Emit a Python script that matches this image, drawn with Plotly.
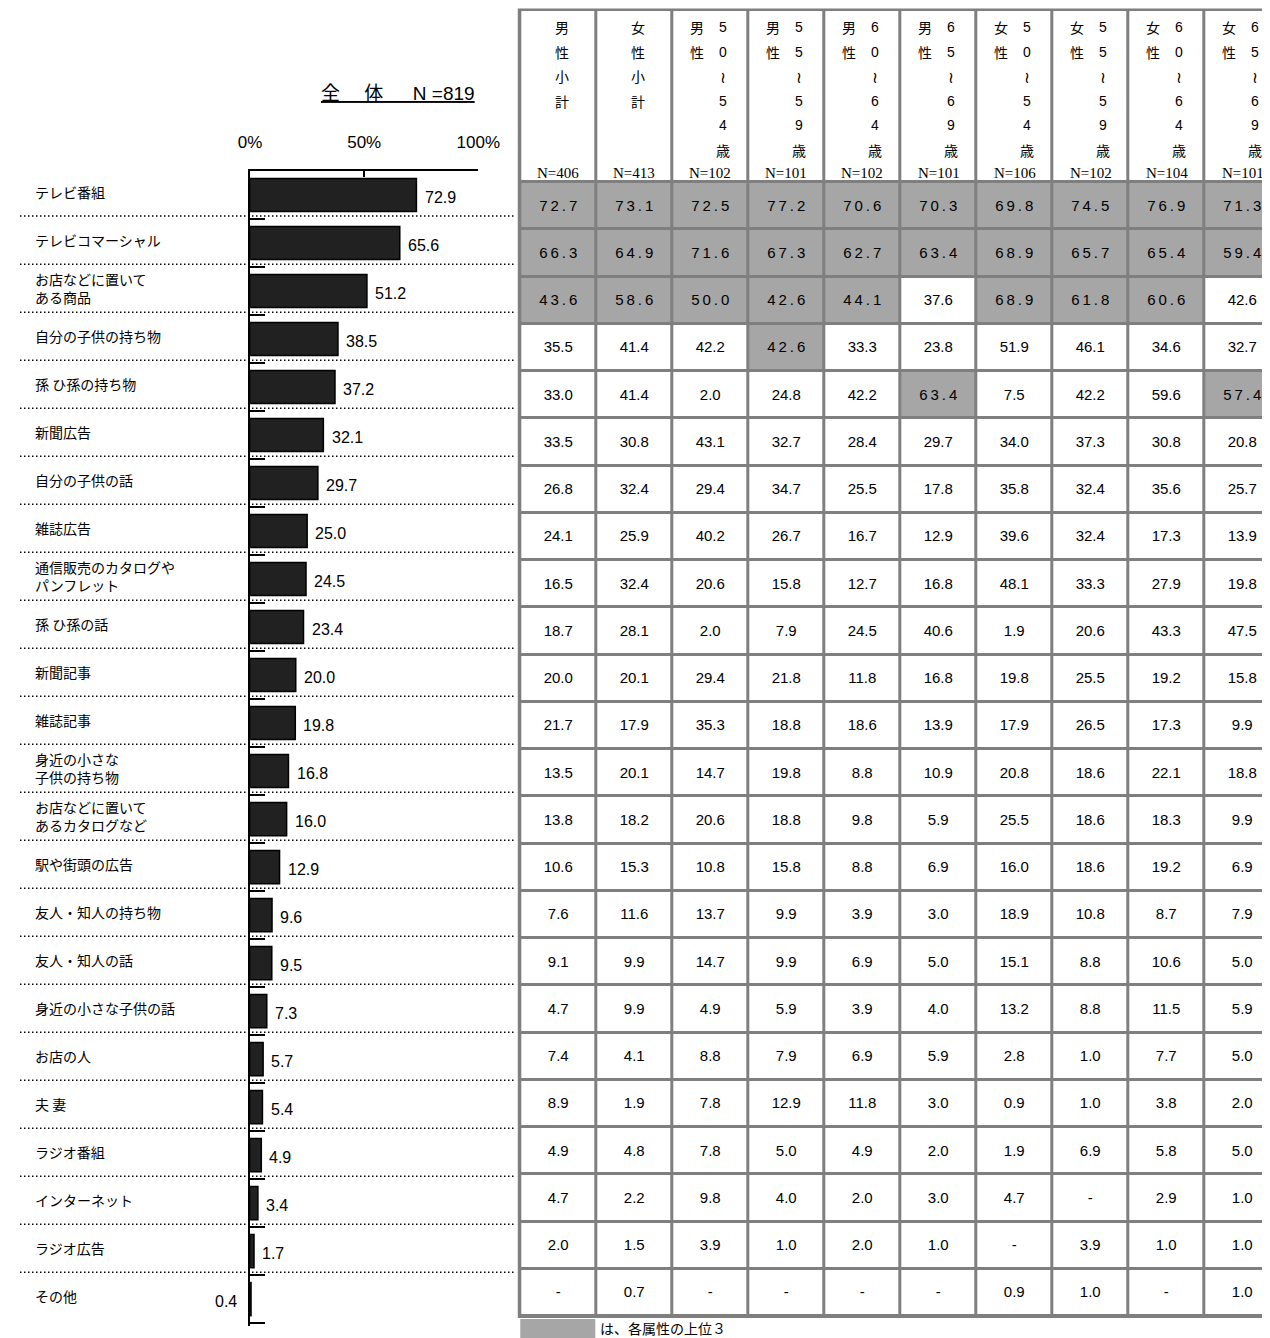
import plotly.graph_objects as go

# The photographed page maps figure pixels to picture pixels as
#   picture_x = 20 + 0.973 * fig_x,   picture_y = 8 + fig_y
SX, OX, OY = 0.973, 20, 8
W = round((1270 - OX) / SX)     # figure width reaching the right edge of the picture
H = 1338 - OY                    # figure height reaching the bottom edge

# ---------------- data ----------------
items = [
    "テレビ番組", "テレビコマーシャル", "お店などに置いて<br>ある商品", "自分の子供の持ち物",
    "孫 ひ孫の持ち物", "新聞広告", "自分の子供の話", "雑誌広告",
    "通信販売のカタログや<br>パンフレット", "孫 ひ孫の話", "新聞記事", "雑誌記事",
    "身近の小さな<br>子供の持ち物", "お店などに置いて<br>あるカタログなど", "駅や街頭の広告",
    "友人・知人の持ち物", "友人・知人の話", "身近の小さな子供の話", "お店の人", "夫 妻",
    "ラジオ番組", "インターネット", "ラジオ広告", "その他",
]
overall = [72.9, 65.6, 51.2, 38.5, 37.2, 32.1, 29.7, 25.0, 24.5, 23.4, 20.0, 19.8,
           16.8, 16.0, 12.9, 9.6, 9.5, 7.3, 5.7, 5.4, 4.9, 3.4, 1.7, 0.4]
title_text = "全　 体　  N =819"
axis_ticks = [0, 50, 100]
axis_ticktext = ["0%", "50%", "100%"]

col_sex = ["男性小計", "女性小計", "男性", "男性", "男性", "男性", "女性", "女性", "女性", "女性"]
col_age = ["", "", "50～54歳", "55～59歳", "60～64歳", "65～69歳",
           "50～54歳", "55～59歳", "60～64歳", "65～69歳"]
col_n = [406, 413, 102, 101, 102, 101, 106, 102, 104, 101]

male_total = [72.7, 66.3, 43.6, 35.5, 33.0, 33.5, 26.8, 24.1, 16.5, 18.7, 20.0, 21.7,
              13.5, 13.8, 10.6, 7.6, 9.1, 4.7, 7.4, 8.9, 4.9, 4.7, 2.0, None]
female_total = [73.1, 64.9, 58.6, 41.4, 41.4, 30.8, 32.4, 25.9, 32.4, 28.1, 20.1, 17.9,
                20.1, 18.2, 15.3, 11.6, 9.9, 9.9, 4.1, 1.9, 4.8, 2.2, 1.5, 0.7]
male_50_54 = [72.5, 71.6, 50.0, 42.2, 2.0, 43.1, 29.4, 40.2, 20.6, 2.0, 29.4, 35.3,
              14.7, 20.6, 10.8, 13.7, 14.7, 4.9, 8.8, 7.8, 7.8, 9.8, 3.9, None]
male_55_59 = [77.2, 67.3, 42.6, 42.6, 24.8, 32.7, 34.7, 26.7, 15.8, 7.9, 21.8, 18.8,
              19.8, 18.8, 15.8, 9.9, 9.9, 5.9, 7.9, 12.9, 5.0, 4.0, 1.0, None]
male_60_64 = [70.6, 62.7, 44.1, 33.3, 42.2, 28.4, 25.5, 16.7, 12.7, 24.5, 11.8, 18.6,
              8.8, 9.8, 8.8, 3.9, 6.9, 3.9, 6.9, 11.8, 4.9, 2.0, 2.0, None]
male_65_69 = [70.3, 63.4, 37.6, 23.8, 63.4, 29.7, 17.8, 12.9, 16.8, 40.6, 16.8, 13.9,
              10.9, 5.9, 6.9, 3.0, 5.0, 4.0, 5.9, 3.0, 2.0, 3.0, 1.0, None]
female_50_54 = [69.8, 68.9, 68.9, 51.9, 7.5, 34.0, 35.8, 39.6, 48.1, 1.9, 19.8, 17.9,
                20.8, 25.5, 16.0, 18.9, 15.1, 13.2, 2.8, 0.9, 1.9, 4.7, None, 0.9]
female_55_59 = [74.5, 65.7, 61.8, 46.1, 42.2, 37.3, 32.4, 32.4, 33.3, 20.6, 25.5, 26.5,
                18.6, 18.6, 18.6, 10.8, 8.8, 8.8, 1.0, 1.0, 6.9, None, 3.9, 1.0]
female_60_64 = [76.9, 65.4, 60.6, 34.6, 59.6, 30.8, 35.6, 17.3, 27.9, 43.3, 19.2, 17.3,
                22.1, 18.3, 19.2, 8.7, 10.6, 11.5, 7.7, 3.8, 5.8, 2.9, 1.0, None]
female_65_69 = [71.3, 59.4, 42.6, 32.7, 57.4, 20.8, 25.7, 13.9, 19.8, 47.5, 15.8, 9.9,
                18.8, 9.9, 6.9, 7.9, 5.0, 5.9, 5.0, 2.0, 5.0, 1.0, 1.0, 1.0]
legend_text = "は、各属性の上位３"

columns = [male_total, female_total, male_50_54, male_55_59, male_60_64, male_65_69,
           female_50_54, female_55_59, female_60_64, female_65_69]

# ---------------- styling ----------------
JP = "Noto Sans CJK JP"
SANS = "Liberation Sans, Noto Sans CJK JP"
SERIF = "Liberation Serif"
HL = "#a6a6a6"
BORDER = "#7f7f7f"

nrow = len(items)
ncol = len(columns)

def px(X):
    """picture x pixel -> paper fraction"""
    return max(0.0, (X - OX) / SX / W)

def py(Y):
    """picture y pixel -> paper fraction"""
    return 1 - (Y - OY) / H

def sx(d):
    """picture pixel shift -> figure pixel shift"""
    return d / SX

fig = go.Figure()

fig.add_trace(go.Bar(
    x=overall, y=list(range(nrow)), orientation="h", width=0.69,
    marker=dict(color="#212121", line=dict(color="black", width=1.5)),
    hoverinfo="skip", xaxis="x", yaxis="y",
))

annotations = []
shapes = []

for k, (lab, v) in enumerate(zip(items, overall)):
    annotations.append(dict(x=px(33), xref="paper", y=k, yref="y", text=lab,
                            xanchor="left", yanchor="middle", align="left", showarrow=False,
                            yshift=3, font=dict(family=JP, size=14, color="black")))
    if v >= 1:
        annotations.append(dict(x=v, xref="x", y=k, yref="y", text=f"{v:.1f}",
                                xanchor="left", yanchor="middle", showarrow=False,
                                xshift=sx(6), yshift=-2, font=dict(family=SANS, size=16, color="black")))
    else:
        annotations.append(dict(x=v, xref="x", y=k, yref="y", text=f"{v:.1f}",
                                xanchor="right", yanchor="middle", showarrow=False,
                                xshift=sx(-12), yshift=-2, font=dict(family=SANS, size=16, color="black")))

for k in range(nrow - 1):
    shapes.append(dict(type="line", xref="paper", yref="y", x0=px(12), x1=px(515),
                       y0=k + 0.5 - 0.06, y1=k + 0.5 - 0.06,
                       line=dict(color="black", width=1.5, dash="1.5px,2.5px")))

annotations.append(dict(x=px(477), xref="paper", y=py(93), yref="paper",
                        text=f"<u>{title_text}</u>", showarrow=False,
                        xanchor="right", yanchor="middle",
                        font=dict(family=SANS, size=19, color="black")))

def is_top3(ci, v):
    vals = sorted([x for x in columns[ci] if x is not None], reverse=True)
    return v is not None and v >= vals[2]

z = [[0] * ncol]
text = [[""] * ncol]
for r in range(nrow):
    zr, tr = [], []
    for c in range(ncol):
        v = columns[c][r]
        hl = is_top3(c, v)
        s = "-" if v is None else f"{v:.1f}"
        zr.append(1 if hl else 0)
        tr.append("\u2009".join(s) if hl else s)
    z.append(zr)
    text.append(tr)

ROW_PX = 47.25
COL_PX = 76
TABLE_X0 = 520
header_top = -0.5 - 172 / ROW_PX
y_edges = [header_top] + [r - 0.5 for r in range(nrow + 1)]

fig.add_trace(go.Heatmap(
    z=z, x=list(range(ncol)), y=y_edges, text=text, texttemplate="%{text}",
    textfont=dict(family=SANS, size=15, color="black"),
    colorscale=[[0, "white"], [1, HL]], zmin=0, zmax=1, showscale=False,
    xgap=3, ygap=3, hoverinfo="skip", xaxis="x2", yaxis="y2",
))

shapes.append(dict(type="rect", xref="paper", yref="paper", x0=px(517.5), x1=1,
                   y0=py(1318), y1=py(8.5), fillcolor=BORDER, line=dict(width=0), layer="below"))

line_y = [27, 51.5, 76, 100.5, 125, 149.5]
for c in range(ncol):
    if col_age[c] == "":
        for i, ch in enumerate(col_sex[c]):
            annotations.append(dict(x=c, xref="x2", y=py(line_y[i]), yref="paper", text=ch,
                                    showarrow=False, xshift=sx(4), xanchor="center", yanchor="middle",
                                    font=dict(family=JP, size=14, color="black")))
    else:
        for i, ch in enumerate(col_sex[c]):
            annotations.append(dict(x=c, xref="x2", y=py(line_y[i]), yref="paper", text=ch,
                                    showarrow=False, xshift=sx(-13), xanchor="center", yanchor="middle",
                                    font=dict(family=JP, size=14, color="black")))
        for i, ch in enumerate(col_age[c]):
            ch2 = "≀" if ch == "～" else ch
            annotations.append(dict(x=c, xref="x2", y=py(line_y[i]), yref="paper", text=ch2,
                                    showarrow=False, xshift=sx(12), xanchor="center", yanchor="middle",
                                    font=dict(family=SANS if ch.isdigit() else JP,
                                              size=16 if ch == "～" else 14, color="black")))
    annotations.append(dict(x=c, xref="x2", y=py(173), yref="paper", text=f"N={col_n[c]}",
                            showarrow=False, xanchor="center", yanchor="middle",
                            font=dict(family=SERIF, size=15, color="black")))

shapes.append(dict(type="rect", xref="paper", yref="paper", x0=px(520), x1=px(595),
                   y0=0, y1=py(1319), fillcolor=HL, line=dict(width=0)))
annotations.append(dict(x=px(598), xref="paper", y=py(1328), yref="paper", text=legend_text,
                        xanchor="left", yanchor="middle", showarrow=False,
                        font=dict(family=JP, size=14, color="black")))

fig.update_layout(
    width=W, height=H, margin=dict(l=0, r=0, t=0, b=0),
    paper_bgcolor="white", plot_bgcolor="rgba(0,0,0,0)",
    showlegend=False,
    xaxis=dict(domain=[px(250), px(478)], range=[0, 100], side="top", anchor="y",
               showline=True, linecolor="black", linewidth=2, showgrid=False, zeroline=False,
               ticks="inside", ticklen=6, tickwidth=2, tickcolor="black",
               tickvals=axis_ticks, ticktext=axis_ticktext, ticklabelstandoff=14,
               tickfont=dict(family=SANS, size=17, color="black"), fixedrange=True),
    yaxis=dict(domain=[py(1326), py(171)], range=[nrow - 0.44, -0.5], anchor="x",
               showline=True, linecolor="black", linewidth=2, showgrid=False, zeroline=False,
               ticks="inside", ticklen=sx(14), tickwidth=1.5, tickcolor="black",
               tickvals=[k + 0.5 for k in range(nrow)], showticklabels=False, fixedrange=True),
    xaxis2=dict(domain=[px(TABLE_X0), 1],
                range=[-0.5, -0.5 + (W * SX + OX - TABLE_X0) / COL_PX],
                anchor="y2", visible=False, fixedrange=True),
    yaxis2=dict(domain=[py(1316), py(10)], range=[nrow - 0.5, header_top], anchor="x2",
                visible=False, fixedrange=True),
    shapes=shapes, annotations=annotations,
)

fig.write_html("out.html")
